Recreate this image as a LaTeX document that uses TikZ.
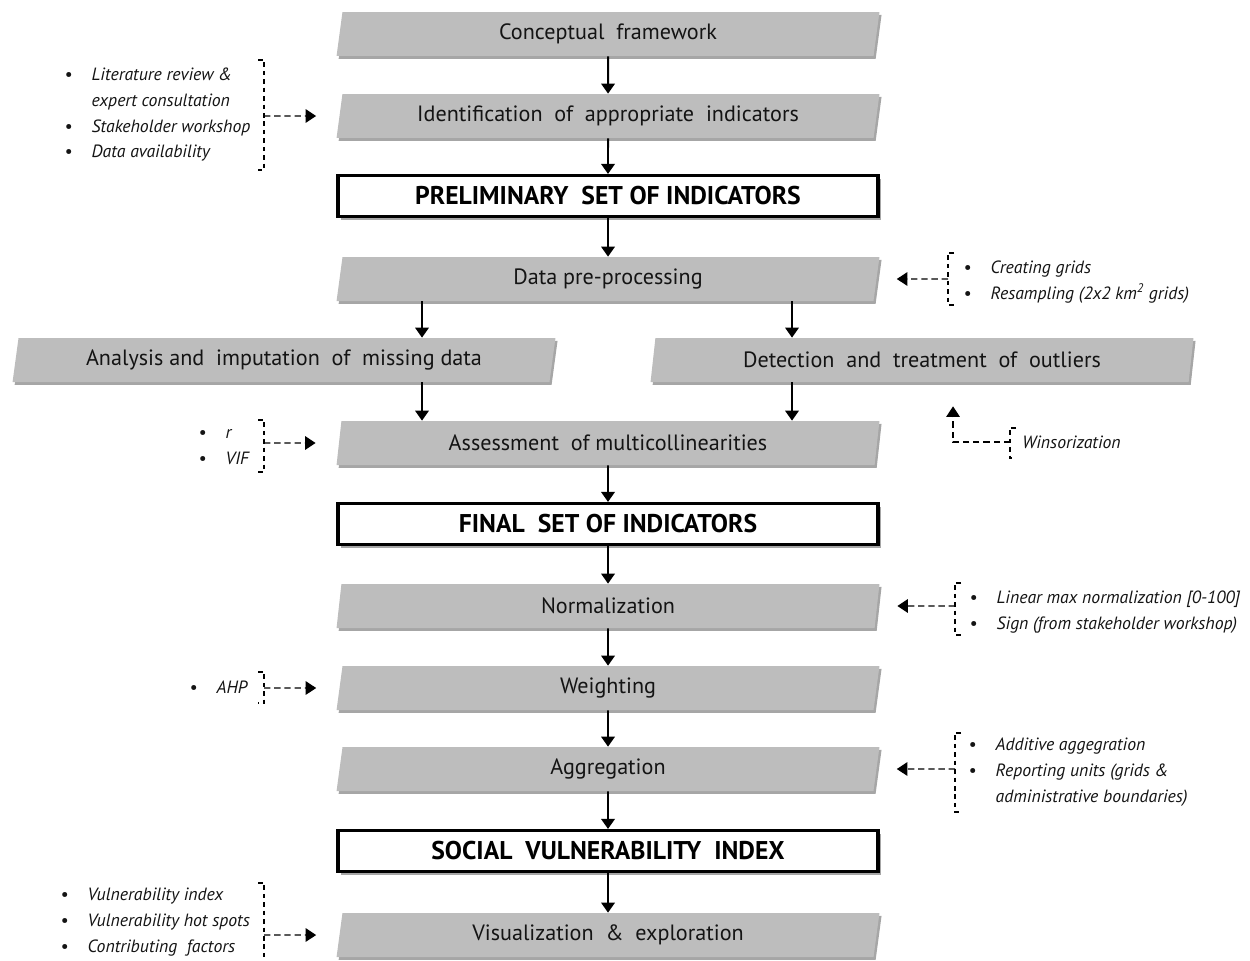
\documentclass[tikz,border=0pt]{standalone}
\usepackage{fontspec}
\setmainfont{PT Sans}
\usetikzlibrary{arrows.meta,shapes.geometric,shadows}

\tikzset{
  stepnode/.style={
    trapezium, trapezium left angle=76, trapezium right angle=104,
    trapezium stretches body,
    fill=black!26, text=black!92,
    minimum width=10.86cm, minimum height=0.88cm, inner sep=1pt,
    font=\fontsize{12.6}{14}\selectfont,
    drop shadow={shadow xshift=1.2pt, shadow yshift=-1.6pt, fill=black, opacity=0.35}
  },
  setnode/.style={
    draw=black, line width=1.8pt, fill=white,
    minimum width=10.8cm, minimum height=0.82cm, inner sep=1pt,
    font=\bfseries\fontsize{14.6}{16}\selectfont,
    drop shadow={shadow xshift=1.5pt, shadow yshift=-1.8pt, fill=black, opacity=0.35}
  },
  flow/.style={-{Triangle[length=2mm,width=2.7mm]}, line width=1.1pt},
  dashflow/.style={-{Triangle[length=2.1mm,width=2.7mm]}, line width=0.8pt,
    dash pattern=on 3.6pt off 2.2pt},
  bracket/.style={line width=0.6pt, dash pattern=on 2.6pt off 2.2pt},
  notes/.style={anchor=west, inner sep=0pt, text=black!92,
    font=\itshape\fontsize{10.1}{14.7}\selectfont}
}

\newcommand{\notelist}[1]{\begin{tabular}{@{}l@{\hspace{11pt}}l@{}}#1\end{tabular}}

\begin{document}
\begin{tikzpicture}[x=0.02cm,y=-0.02cm]
    \useasboundingbox (0,0) rectangle (1250,960);

    % main column
    \node[stepnode] (concept) at (608,34) {Conceptual\ \ framework};
    \node[stepnode] (ident) at (608,116) {Identification\ \ of\ \ appropriate\ \ indicators};
    \node[setnode] (prelim) at (608,196) {PRELIMINARY\ \ SET OF INDICATORS};
    \node[stepnode] (prep) at (608,279) {Data pre-processing};
    \node[stepnode] (analysis) at (284,360) {Analysis and\ \ imputation\ \ of\ \ missing data};
    \node[stepnode] (detect) at (922,360) {Detection\ \ and\ \ treatment\ \ of\ \ outliers};
    \node[stepnode] (assess) at (608,443) {Assessment\ \ of multicollinearities};
    \node[setnode] (final) at (608,524) {FINAL\ \ SET OF INDICATORS};
    \node[stepnode] (norm) at (608,606) {Normalization};
    \node[stepnode] (weight) at (608,688) {Weighting};
    \node[stepnode] (aggr) at (608,769) {Aggregation};
    \node[setnode] (svi) at (608,851) {SOCIAL\ \ VULNERABILITY\ \ INDEX};
    \node[stepnode] (visual) at (608,935) {Visualization\ \ \&\ \ exploration};

    \coordinate (lcol) at (422,0);
    \coordinate (rcol) at (792,0);

    \draw[flow] (concept) -- (ident);
    \draw[flow] (ident) -- (prelim);
    \draw[flow] (prelim) -- (prep);
    \draw[flow] (prep.south -| lcol) -- (analysis.north -| lcol);
    \draw[flow] (prep.south -| rcol) -- (detect.north -| rcol);
    \draw[flow] (analysis.south -| lcol) -- (assess.north -| lcol);
    \draw[flow] (detect.south -| rcol) -- (assess.north -| rcol);
    \draw[flow] (assess) -- (final);
    \draw[flow] (final) -- (norm);
    \draw[flow] (norm) -- (weight);
    \draw[flow] (weight) -- (aggr);
    \draw[flow] (aggr) -- (svi);
    \draw[flow] (svi) -- (visual);

    % notes on the left
    \node[notes] (litnote) at (64,114) {\notelist{%
      \textbullet & Literature review \& \\
                  & expert consultation \\
      \textbullet & Stakeholder workshop \\
      \textbullet & Data availability}};
    \draw[bracket] (258,60) -- (264,60) -- (264,170) -- (258,170);
    \coordinate (litbr) at (264,116);
    \draw[dashflow, shorten >=0.46cm] (litbr) -- (ident.west);

    \node[notes] (corrnote) at (198,446) {\notelist{%
      \textbullet & \textit{r} \\
      \textbullet & VIF}};
    \draw[bracket] (258,420) -- (264,420) -- (264,472) -- (258,472);
    \coordinate (corrbr) at (264,443);
    \draw[dashflow, shorten >=0.46cm] (corrbr) -- (assess.west);

    \node[notes] (ahpnote) at (189,688) {\notelist{%
      \textbullet & AHP}};
    \draw[bracket] (258,672) -- (264,672) -- (264,703) -- (258,703);
    \coordinate (ahpbr) at (264,688);
    \draw[dashflow, shorten >=0.46cm] (ahpbr) -- (weight.west);

    \node[notes] (visnote) at (60,921) {\notelist{%
      \textbullet & Vulnerability index \\
      \textbullet & Vulnerability hot spots \\
      \textbullet & Contributing\ \ factors}};
    \draw[bracket] (258,883) -- (264,883) -- (264,962);
    \coordinate (visbr) at (264,935);
    \draw[dashflow, shorten >=0.46cm] (visbr) -- (visual.west);

    % notes on the right
    \node[notes] (gridnote) at (963,281) {\notelist{%
      \textbullet & Creating grids \\
      \textbullet & Resampling (2x2 km\textsuperscript{2} grids)}};
    \draw[bracket] (954,253) -- (948,253) -- (948,305) -- (954,305);
    \coordinate (gridbr) at (948,279);
    \draw[dashflow, shorten >=0.4cm] (gridbr) -- (prep.east);

    \node[notes] (winsnote) at (1022,442) {Winsorization};
    \draw[bracket] (1016,428) -- (1010,428) -- (1010,458) -- (1016,458);
    \coordinate (winsbr) at (1010,442);
    \draw[dashflow, shorten >=0.48cm] (winsbr) -| ([xshift=0.62cm]detect.south);

    \node[notes] (normnote) at (969,611) {\notelist{%
      \textbullet & Linear max normalization [0-100] \\
      \textbullet & Sign (from stakeholder workshop)}};
    \draw[bracket] (961,583) -- (955,583) -- (955,635) -- (961,635);
    \coordinate (normbr) at (955,606);
    \draw[dashflow, shorten >=0.4cm] (normbr) -- (norm.east);

    \node[notes] (aggrnote) at (968,771) {\notelist{%
      \textbullet & Additive aggegration \\
      \textbullet & Reporting units (grids \& \\
                  & administrative boundaries)}};
    \draw[bracket] (961,733) -- (955,733) -- (955,812) -- (961,812);
    \coordinate (aggrbr) at (955,769);
    \draw[dashflow, shorten >=0.4cm] (aggrbr) -- (aggr.east);
\end{tikzpicture}
\end{document}
